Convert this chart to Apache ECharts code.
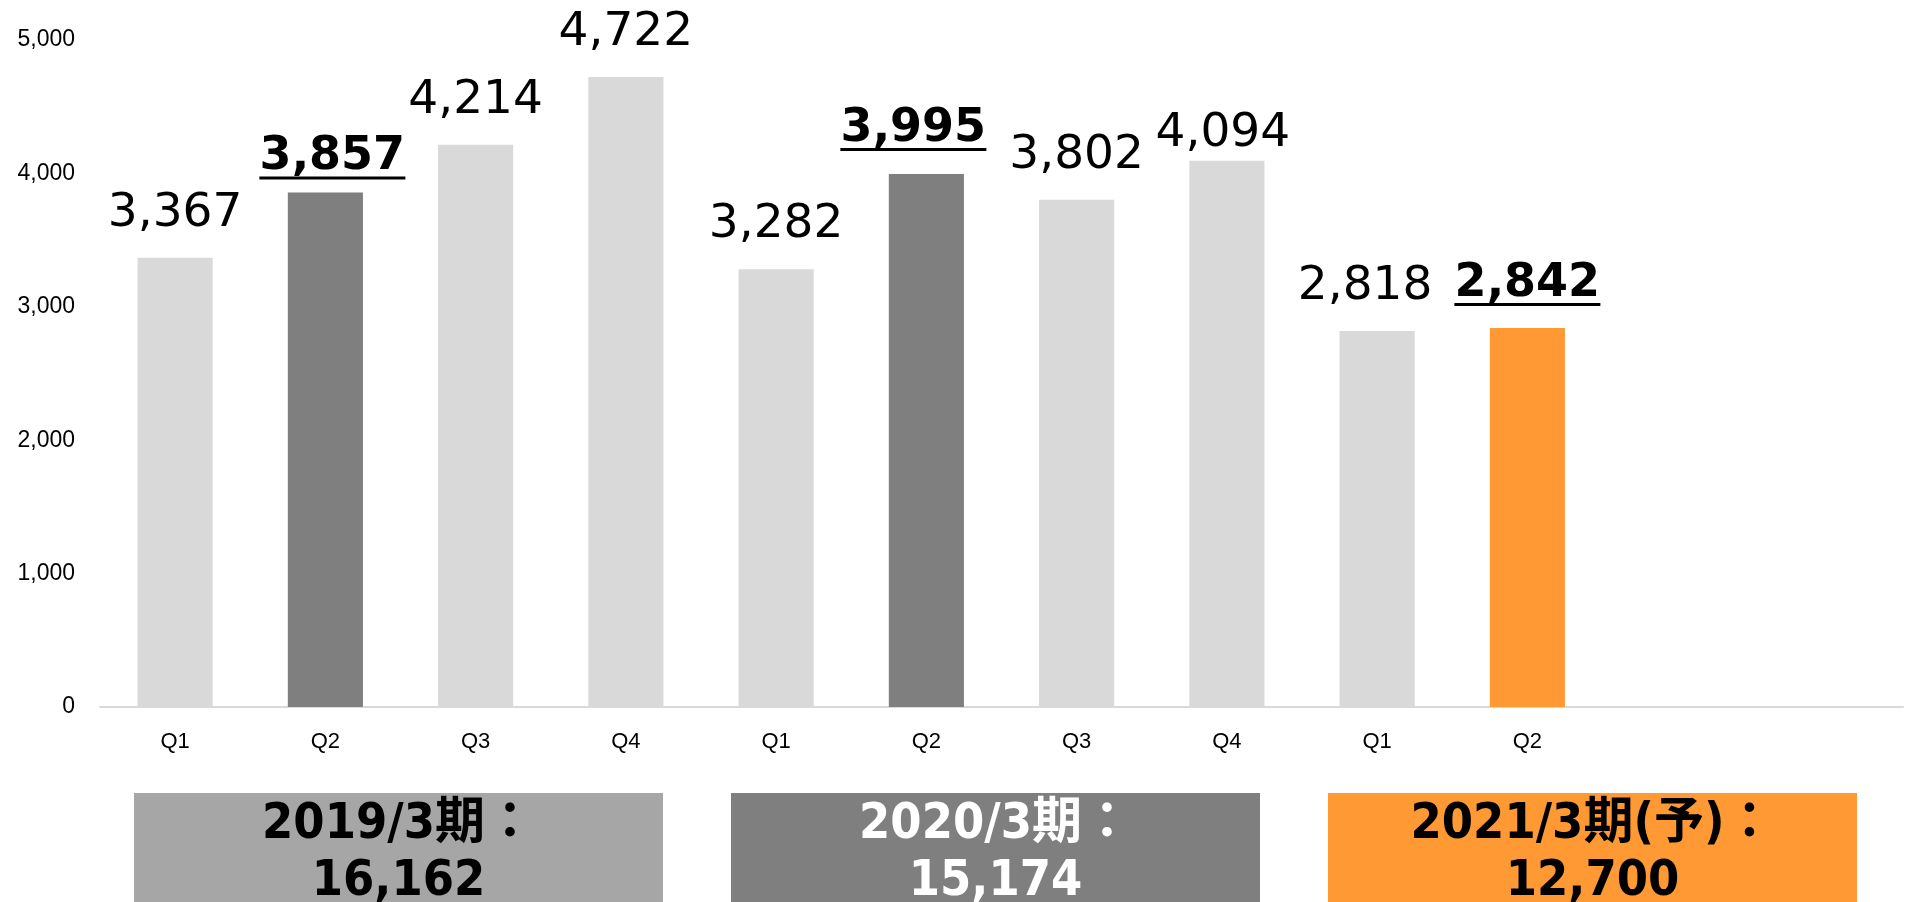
<!DOCTYPE html>
<html>
<head>
<meta charset="utf-8">
<style>
  html, body { margin: 0; padding: 0; background: #ffffff; }
  #chart { width: 1910px; height: 902px; }
</style>
<script src="https://cdn.jsdelivr.net/npm/echarts@6/dist/echarts.min.js"></script>
</head>
<body>
<div id="chart"></div>
<script>
// ---- data ----
const quarterLabels = ['Q1', 'Q2', 'Q3', 'Q4', 'Q1', 'Q2', 'Q3', 'Q4', 'Q1', 'Q2', '', ''];
const salesValues = [3367, 3857, 4214, 4722, 3282, 3995, 3802, 4094, 2818, 2842];
const barKinds = ['past', 'q2', 'past', 'past', 'past', 'q2', 'past', 'past', 'past', 'current'];
const yTickValues = [0, 1000, 2000, 3000, 4000, 5000];
const periodNames = ['2019/3期', '2020/3期', '2021/3期(予)'];
const periodTotals = [16162, 15174, 12700];

// ---- styling ----
const kindStyle = {
  past:    { color: '#D9D9D9', bold: false },
  q2:      { color: '#7F7F7F', bold: true },
  current: { color: '#FF9933', bold: true }
};
const periodStyle = [
  { color: '#A6A6A6', text: '#000000' },
  { color: '#7F7F7F', text: '#FFFFFF' },
  { color: '#FF9933', text: '#000000' }
];
// per-bar label nudges (distance above bar, horizontal shift)
const labelTweak = {
  1: { dist: 13, dx: 7 },
  5: { dist: 23, dx: -13 },
  7: { dist: 2, dx: -4 },
  8: { dx: -12 },
  9: { dist: 22 }
};

const fmt = v => v.toLocaleString('en-US');
const valueFont = "'DejaVu Sans', Verdana, sans-serif";
const axisFont = "'Liberation Sans', Arial, sans-serif";

const barData = salesValues.map((v, i) => {
  const st = kindStyle[barKinds[i]];
  const tw = labelTweak[i] || {};
  const label = {
    show: true,
    position: 'top',
    distance: tw.dist !== undefined ? tw.dist : 19,
    offset: [tw.dx || 0, 0]
  };
  if (st.bold) {
    label.formatter = '{b|' + fmt(v) + '}\n{u| }';
    label.rich = {
      b: { fontFamily: valueFont, fontSize: 46, fontWeight: 'bold', color: '#000', lineHeight: 38 },
      u: { width: 146, height: 3, lineHeight: 3, fontSize: 2, backgroundColor: '#000', color: 'transparent' }
    };
  } else {
    label.formatter = fmt(v);
    label.fontFamily = valueFont;
    label.fontSize = 47;
    label.lineHeight = 50;
    label.color = '#000';
  }
  return { value: v, itemStyle: { color: st.color }, label };
});

const boxData = periodTotals.map((t, i) => ({
  value: 1,
  itemStyle: { color: periodStyle[i].color },
  label: { color: periodStyle[i].text }
}));

const chart = echarts.init(document.getElementById('chart'), null, { renderer: 'canvas' });
chart.setOption({
  animation: false,
  backgroundColor: '#ffffff',
  grid: [
    { left: 100, right: 7, top: 40, bottom: 195, containLabel: false },
    { left: 100, right: 19, top: 793, bottom: -16, containLabel: false }
  ],
  xAxis: [
    {
      type: 'category',
      gridIndex: 0,
      data: quarterLabels,
      axisLine: { show: true, lineStyle: { color: '#D9D9D9', width: 2 } },
      axisTick: { show: false },
      axisLabel: { interval: 0, margin: 24, fontFamily: axisFont, fontSize: 22, color: '#000' },
      splitLine: { show: false }
    },
    {
      type: 'category',
      gridIndex: 1,
      data: periodNames,
      show: false
    }
  ],
  yAxis: [
    {
      type: 'value',
      gridIndex: 0,
      min: yTickValues[0],
      max: yTickValues[yTickValues.length - 1],
      interval: yTickValues[1] - yTickValues[0],
      axisLine: { show: false },
      axisTick: { show: false },
      splitLine: { show: false },
      axisLabel: { margin: 25, fontFamily: axisFont, fontSize: 23, color: '#000', formatter: v => fmt(v) }
    },
    {
      type: 'value',
      gridIndex: 1,
      min: 0,
      max: 1,
      show: false
    }
  ],
  series: [
    {
      type: 'bar',
      xAxisIndex: 0,
      yAxisIndex: 0,
      barWidth: '50%',
      data: barData
    },
    {
      type: 'bar',
      xAxisIndex: 1,
      yAxisIndex: 1,
      barWidth: 529,
      data: boxData,
      label: {
        show: true,
        position: 'insideTop',
        distance: 4,
        fontFamily: "'DejaVu Sans Condensed', 'DejaVu Sans', 'Noto Sans CJK JP', sans-serif",
        fontSize: 50,
        fontWeight: 'bold',
        lineHeight: 57,
        formatter: p => periodNames[p.dataIndex] + '：\n' + fmt(periodTotals[p.dataIndex])
      }
    }
  ]
});
</script>
</body>
</html>
